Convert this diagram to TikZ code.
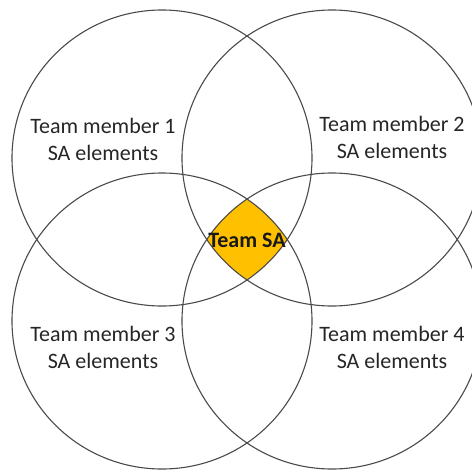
\documentclass[tikz,border=0pt]{standalone}
\usepackage{fontspec}
\setmainfont{Carlito}
\definecolor{gold}{HTML}{FFC000}
\definecolor{ring}{HTML}{4A4A4A}
\definecolor{txt}{HTML}{262626}
\begin{document}
\begin{tikzpicture}[x=1pt,y=-1pt,
  ring/.style={draw=ring,line width=1.1pt},
  lbl/.style={align=center,text=txt,inner sep=0pt,font=\fontsize{22}{27}\selectfont}]
\useasboundingbox (0,0) rectangle (472,472);
\fill[white] (0,0) rectangle (472,472);
\coordinate (c1) at (162,158);
\coordinate (c2) at (332,158);
\coordinate (c3) at (162,321);
\coordinate (c4) at (332,321);
\begin{scope}
  \clip (c1) ellipse [x radius=150,y radius=148];
  \clip (c2) ellipse [x radius=150,y radius=148];
  \clip (c3) ellipse [x radius=150,y radius=148];
  \fill[gold] (c4) ellipse [x radius=150,y radius=148];
\end{scope}
\foreach \c in {c1,c2,c3,c4}
  \draw[ring] (\c) ellipse [x radius=150,y radius=148];
\node[lbl] (t1) at (103,139) {Team member 1\\SA elements};
\node[lbl] (t2) at (392,137) {Team member 2\\SA elements};
\node[lbl] (t3) at (103,347) {Team member 3\\SA elements};
\node[lbl] (t4) at (392,347) {Team member 4\\SA elements};
\node[anchor=base,inner sep=0pt,text=black!90,font=\fontsize{22}{27}\selectfont\bfseries] (sa) at (247,247) {Team SA};
\end{tikzpicture}
\end{document}
